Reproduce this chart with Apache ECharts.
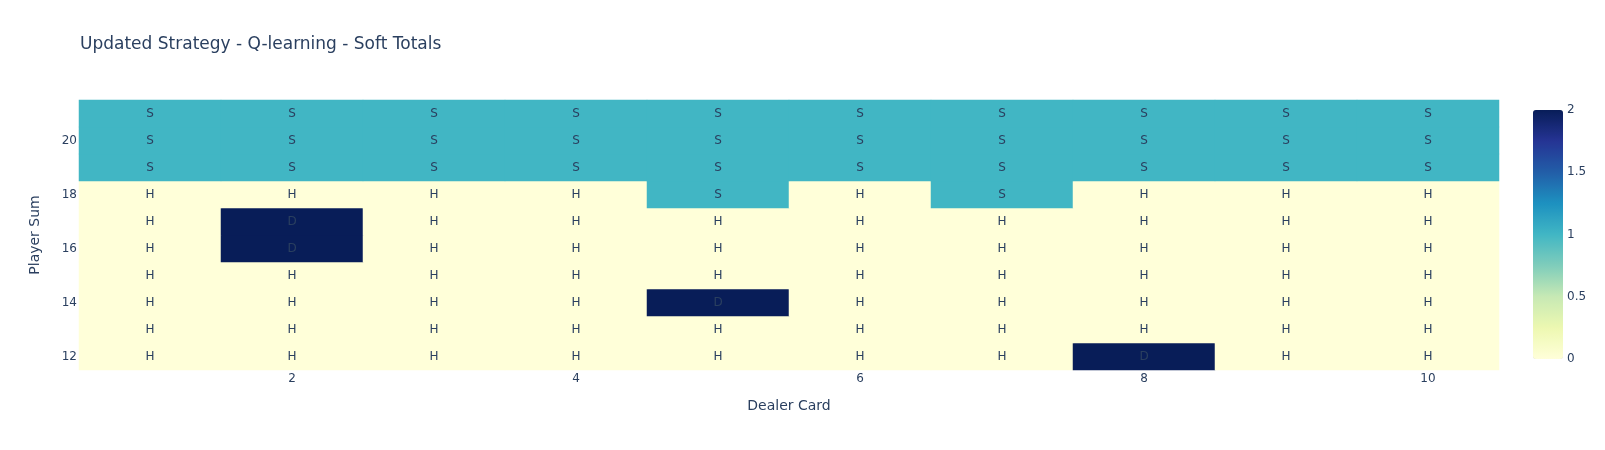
<!DOCTYPE html>
<html>
<head>
<meta charset="utf-8">
<script src="https://cdn.jsdelivr.net/npm/echarts@6/dist/echarts.min.js"></script>
<style>html,body{margin:0;padding:0;background:#fff}#c{width:1605px;height:450px}</style>
</head>
<body>
<div id="c"></div>
<script>
const dealerCards = ['1','2','3','4','5','6','7','8','9','10'];
const playerSums = ['12','13','14','15','16','17','18','19','20','21'];
const actionNames = ['H','S','D'];
// rows: player sum 12..21, columns: dealer card 1..10 (0=H,1=S,2=D)
const row12 = [0,0,0,0,0,0,0,2,0,0];
const row13 = [0,0,0,0,0,0,0,0,0,0];
const row14 = [0,0,0,0,2,0,0,0,0,0];
const row15 = [0,0,0,0,0,0,0,0,0,0];
const row16 = [0,2,0,0,0,0,0,0,0,0];
const row17 = [0,2,0,0,0,0,0,0,0,0];
const row18 = [0,0,0,0,1,0,1,0,0,0];
const row19 = [1,1,1,1,1,1,1,1,1,1];
const row20 = [1,1,1,1,1,1,1,1,1,1];
const row21 = [1,1,1,1,1,1,1,1,1,1];
const rows = [row12,row13,row14,row15,row16,row17,row18,row19,row20,row21];
const colorbarTicks = [0,0.5,1,1.5,2];
const palette = ['#ffffd9','#edf8b1','#c7e9b4','#7fcdbb','#41b6c4','#1d91c0','#225ea8','#253494','#081d58'];

const data = [];
rows.forEach((r, yi) => r.forEach((v, xi) => data.push([xi, yi, v])));

const font = '"DejaVu Sans", Verdana, sans-serif';
const txt = '#2a3f5f';
const chart = echarts.init(document.getElementById('c'));
chart.setOption({
  animation: false,
  textStyle: {fontFamily: font},
  title: {
    text: 'Updated Strategy - Q-learning - Soft Totals',
    left: 80, top: 36, padding: 0,
    textStyle: {fontFamily: font, fontSize: 17, fontWeight: 'normal', color: txt}
  },
  grid: [
    {left: 79, width: 1420, top: 100, height: 270},
    {left: 1533, width: 30, top: 110, height: 249}
  ],
  xAxis: [{
    type: 'category', data: dealerCards, gridIndex: 0,
    axisLine: {show: false}, axisTick: {show: false}, splitLine: {show: false},
    axisLabel: {interval: (i, v) => Number(v) % 2 === 0, color: txt, fontSize: 12, margin: 3, fontFamily: font},
    name: 'Dealer Card', nameLocation: 'middle', nameGap: 29,
    nameTextStyle: {color: txt, fontSize: 14, fontFamily: font}
  }, {
    type: 'value', gridIndex: 1, show: false
  }],
  yAxis: [{
    type: 'category', data: playerSums, gridIndex: 0,
    axisLine: {show: false}, axisTick: {show: false}, splitLine: {show: false},
    axisLabel: {interval: (i, v) => Number(v) % 2 === 0, color: txt, fontSize: 12, margin: 2, fontFamily: font},
    name: 'Player Sum', nameLocation: 'middle', nameGap: 37,
    nameTextStyle: {color: txt, fontSize: 14, fontFamily: font}
  }, {
    type: 'value', gridIndex: 1, position: 'right', min: 0, max: 2, interval: 0.5,
    axisLine: {show: false}, axisTick: {show: false}, splitLine: {show: false},
    axisLabel: {color: txt, fontSize: 12, margin: 4, fontFamily: font,
      formatter: v => colorbarTicks.includes(v) ? String(v) : ''}
  }],
  visualMap: {
    type: 'continuous', min: 0, max: 2, calculable: false, show: true,
    seriesIndex: 0, orient: 'vertical', left: 1533, top: 110, padding: 0,
    itemWidth: 30, itemHeight: 249, text: null, showLabel: false,
    inRange: {color: palette}
  },
  series: [{
    type: 'heatmap', xAxisIndex: 0, yAxisIndex: 0, data: data,
    itemStyle: {borderWidth: 0},
    emphasis: {disabled: true},
    label: {show: true, color: txt, fontSize: 12, fontFamily: font,
      formatter: p => actionNames[p.value[2]]}
  }]
});
</script>
</body>
</html>
